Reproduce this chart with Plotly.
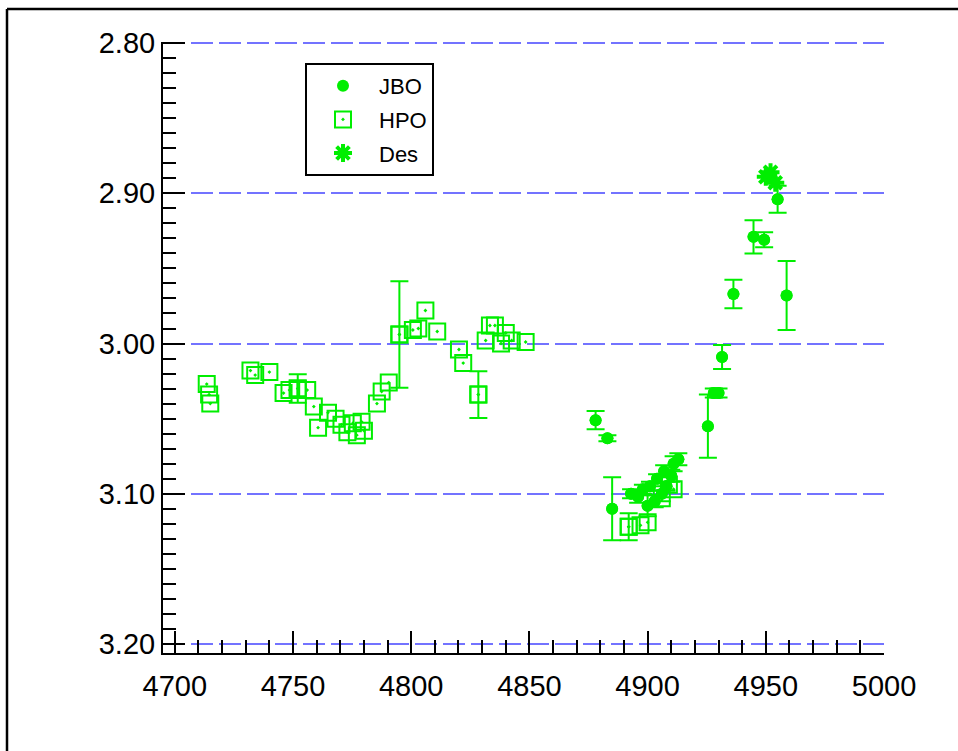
import plotly.graph_objects as go

# ---- data ----
jbo_x = [4878, 4883, 4885, 4893, 4896, 4898, 4900, 4901, 4903, 4904, 4906, 4907, 4908,
         4910, 4911, 4913, 4925.5, 4928, 4930, 4931.5, 4936.3, 4944.8, 4949.3, 4955, 4958.8]
jbo_y = [3.051, 3.063, 3.110, 3.100, 3.102, 3.097, 3.108, 3.095, 3.105, 3.090, 3.100, 3.085, 3.095,
         3.088, 3.080, 3.077, 3.055, 3.033, 3.033, 3.009, 2.967, 2.929, 2.931, 2.904, 2.968]
jbo_err = [0.006, 0.002, 0.021, 0.003, 0.004, 0.003, 0.007, 0.003, 0.004, 0.003, 0.005, 0.004, 0.003,
           0.004, 0.005, 0.004, 0.021, 0.003, 0.003, 0.008, 0.0095, 0.011, 0.005, 0.009, 0.023]

hpo_x = [4713.5, 4714.5, 4715, 4732, 4734, 4740, 4746, 4748.5, 4752, 4756, 4758.8, 4760.6,
         4764.8, 4768, 4770.5, 4773, 4775.3, 4777, 4779, 4780, 4785.5, 4787.5, 4790.5, 4795,
         4800.7, 4803, 4806, 4811, 4820.2, 4822, 4828.4, 4831.5, 4833.3, 4835.4, 4838, 4840,
         4842.5, 4848.4, 4892, 4897, 4900, 4906, 4909, 4911]
hpo_y = [3.027, 3.034, 3.040, 3.018, 3.021, 3.019, 3.033, 3.031, 3.030, 3.031, 3.042, 3.056,
         3.046, 3.050, 3.054, 3.059, 3.053, 3.061, 3.052, 3.058, 3.040, 3.032, 3.026, 2.994,
         2.991, 2.990, 2.978, 2.992, 3.004, 3.013, 3.034, 2.998, 2.988, 2.988, 3.000, 2.993,
         2.998, 2.999, 3.122, 3.121, 3.119, 3.103, 3.094, 3.097]
hpo_err = [0, 0, 0, 0, 0, 0, 0, 0, 0.0095, 0, 0, 0,
           0, 0, 0, 0, 0, 0, 0, 0, 0, 0, 0, 0.0355,
           0, 0, 0, 0, 0, 0, 0.0155, 0, 0, 0, 0, 0,
           0, 0, 0.009, 0, 0, 0, 0, 0]

des_x = [4950, 4952, 4954]
des_y = [2.889, 2.886, 2.893]

y_ticks = [2.80, 2.90, 3.00, 3.10, 3.20]
x_ticks = [4700, 4750, 4800, 4850, 4900, 4950, 5000]

GREEN = "#00ee00"
FONT = "Liberation Sans, Arial, sans-serif"

fig = go.Figure()


def with_err(xs, ys, es):
    keep = [i for i, e in enumerate(es) if e > 0]
    return [xs[i] for i in keep], [ys[i] for i in keep], [es[i] for i in keep]


# JBO
fig.add_trace(go.Scatter(x=jbo_x, y=jbo_y, mode="markers", name="JBO", legendgroup="a",
                         marker=dict(symbol="circle", size=12, color=GREEN)))
ex, ey, ee = with_err(jbo_x, jbo_y, jbo_err)
fig.add_trace(go.Scatter(x=ex, y=ey, mode="markers", showlegend=False, legendgroup="a",
                         marker=dict(symbol="circle", size=12, color=GREEN),
                         error_y=dict(type="data", array=ee, color=GREEN, thickness=2, width=9)))

# HPO
fig.add_trace(go.Scatter(x=hpo_x, y=hpo_y, mode="markers", name="HPO", legendgroup="b",
                         marker=dict(symbol="square-open-dot", size=16, color=GREEN,
                                     line=dict(width=2, color=GREEN))))
ex, ey, ee = with_err(hpo_x, hpo_y, hpo_err)
fig.add_trace(go.Scatter(x=ex, y=ey, mode="markers", showlegend=False, legendgroup="b",
                         marker=dict(symbol="square-open-dot", size=16, color=GREEN,
                                     line=dict(width=2, color=GREEN)),
                         error_y=dict(type="data", array=ee, color=GREEN, thickness=2, width=9)))

# Des
fig.add_trace(go.Scatter(x=des_x, y=des_y, mode="markers", name="Des", legendgroup="c",
                         marker=dict(symbol="asterisk-open", size=15, color=GREEN,
                                     line=dict(width=4, color=GREEN))))

L, R, T, B = 163, 74, 42, 98
W, H = 958, 751
pw, ph = W - L - R, H - T - B


def px(xp):
    return (xp - L) / pw


def py(yp):
    return (H - B - yp) / ph


fig.update_layout(
    width=W, height=H,
    margin=dict(l=L, r=R, t=T, b=B, pad=0),
    paper_bgcolor="white", plot_bgcolor="white",
    font=dict(family=FONT, size=29, color="black"),
    showlegend=True,
    legend=dict(x=px(305), y=py(63), xanchor="left", yanchor="top",
                bordercolor="black", borderwidth=2, bgcolor="white",
                font=dict(family=FONT, size=22, color="black"),
                traceorder="grouped", tracegroupgap=2, itemwidth=62),
    xaxis=dict(range=[4695, 5000], tickmode="array", tickvals=x_ticks,
               ticktext=[str(v) for v in x_ticks],
               showgrid=False, zeroline=False,
               showline=True, linecolor="black", linewidth=2, mirror=False,
               ticks="inside", ticklen=22, tickwidth=2, tickcolor="black",
               ticklabelstandoff=6,
               minor=dict(tickmode="linear", tick0=4700, dtick=10, ticks="inside",
                          ticklen=13, tickwidth=2, tickcolor="black", showgrid=False)),
    yaxis=dict(range=[3.206, 2.7993], tickmode="array", tickvals=y_ticks,
               ticktext=["%.2f" % v for v in y_ticks],
               showgrid=True, gridcolor="#7373ff", gridwidth=2, griddash="22px,6px",
               zeroline=False,
               showline=True, linecolor="black", linewidth=2, mirror=False,
               ticks="inside", ticklen=22, tickwidth=2, tickcolor="black",
               ticklabelstandoff=0,
               minor=dict(tickmode="linear", tick0=2.80, dtick=0.01, ticks="inside",
                          ticklen=13, tickwidth=2, tickcolor="black", showgrid=False)),
    shapes=[
        dict(type="line", xref="paper", yref="paper",
             x0=px(7), x1=px(958), y0=py(9), y1=py(9),
             line=dict(color="black", width=2.5), layer="above"),
        dict(type="line", xref="paper", yref="paper",
             x0=px(7), x1=px(7), y0=py(9), y1=py(751),
             line=dict(color="black", width=2.5), layer="above"),
    ],
)

fig.write_html("out.html", config={"displayModeBar": False},
               post_script="document.body.style.margin='0px';")
